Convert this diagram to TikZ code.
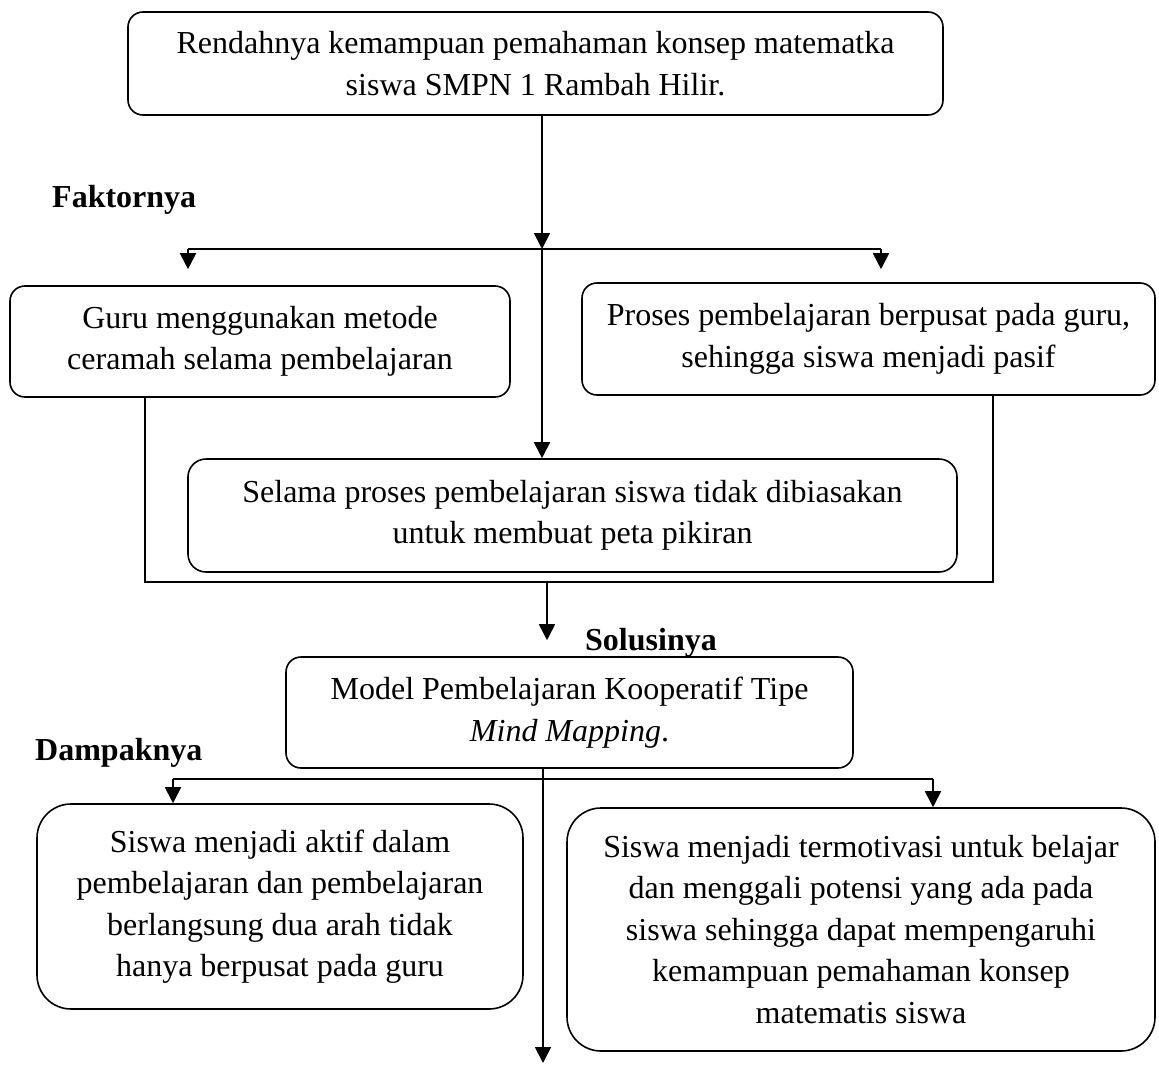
\documentclass[tikz,border=0pt]{standalone}
\usepackage{fontspec}
\setmainfont{Liberation Serif}
\usetikzlibrary{arrows.meta, positioning, calc}

\tikzset{
  box/.style={draw, rounded corners=15pt, line width=1.6pt, align=center, inner sep=0pt, font=\fontsize{32}{41.5}\selectfont, execute at begin node={\rule{0pt}{28pt}}},
  bigbox/.style={box, rounded corners=34pt},
  conn/.style={line width=1.8pt},
  arr/.style={conn, -{Triangle[width=16pt,length=16pt]}},
  lbl/.style={anchor=base west, inner sep=0pt, font=\fontsize{32}{41.5}\selectfont\bfseries}
}

\begin{document}
\begin{tikzpicture}[x=1pt,y=-1pt]
    \useasboundingbox (0,0) rectangle (1159,1065);

    \node[box, minimum width=815pt, minimum height=103pt] (masalah) at (535.5,63.5) {Rendahnya kemampuan pemahaman konsep matematka\\siswa SMPN 1 Rambah Hilir.};
    \node[box, minimum width=500pt, minimum height=111pt] (guru) at (260,341.5) {Guru menggunakan metode\\ceramah selama pembelajaran};
    \node[box, minimum width=573pt, minimum height=112pt] (pasif) at (868.5,339) {Proses pembelajaran berpusat pada guru,\\sehingga siswa menjadi pasif};
    \node[box, rounded corners=18pt, minimum width=769pt, minimum height=113pt] (peta) at (572.5,515.5) {Selama proses pembelajaran siswa tidak dibiasakan\\untuk membuat peta pikiran};
    \node[box, minimum width=567pt, minimum height=111pt] (solusi) at (569.5,712.5) {Model Pembelajaran Kooperatif Tipe\\\textit{Mind Mapping}.};
    \node[bigbox, minimum width=486pt, minimum height=205pt] (aktif) at (280,906.5) {Siswa menjadi aktif dalam\\pembelajaran dan pembelajaran\\berlangsung dua arah tidak\\hanya berpusat pada guru};
    \node[bigbox, minimum width=588pt, minimum height=243pt] (motivasi) at (861,929.5) {Siswa menjadi termotivasi untuk belajar\\dan menggali potensi yang ada pada\\siswa sehingga dapat mempengaruhi\\kemampuan pemahaman konsep\\matematis siswa};

    \node[lbl] (faktor) at (52,207) {Faktornya};
    \node[lbl] (solusinya) at (585,650) {Solusinya};
    \node[lbl] (dampak) at (35,760) {Dampaknya};

    % faktor
    \coordinate (f1) at (542,249);
    \coordinate (fl) at (188,249);
    \coordinate (fr) at (881,249);
    \draw[arr] (masalah.south -| f1) -- (f1);
    \draw[arr] (f1) -- (f1 |- peta.north);
    \draw[conn] (fl) -- (fr);
    \draw[arr, shorten >=16pt] (fl) -- (fl |- guru.north);
    \draw[arr, shorten >=13pt] (fr) -- (fr |- pasif.north);

    % solusi
    \coordinate (gl) at (145,582);
    \coordinate (gr) at (993,582);
    \coordinate (s1) at (547,582);
    \draw[conn] (guru.south -| gl) -- (gl) -- (gr) -- (gr |- pasif.south);
    \draw[arr, shorten >=16pt] (s1) -- (s1 |- solusi.north);

    % dampak
    \coordinate (d1) at (543,779);
    \coordinate (dl) at (173,779);
    \coordinate (dr) at (933,779);
    \coordinate (akhir) at (543,1063);
    \draw[arr] (solusi.south -| d1) -- (akhir);
    \draw[conn] (dl) -- (dr);
    \draw[arr] (dl) -- (dl |- aktif.north);
    \draw[arr] (dr) -- (dr |- motivasi.north);
\end{tikzpicture}
\end{document}
